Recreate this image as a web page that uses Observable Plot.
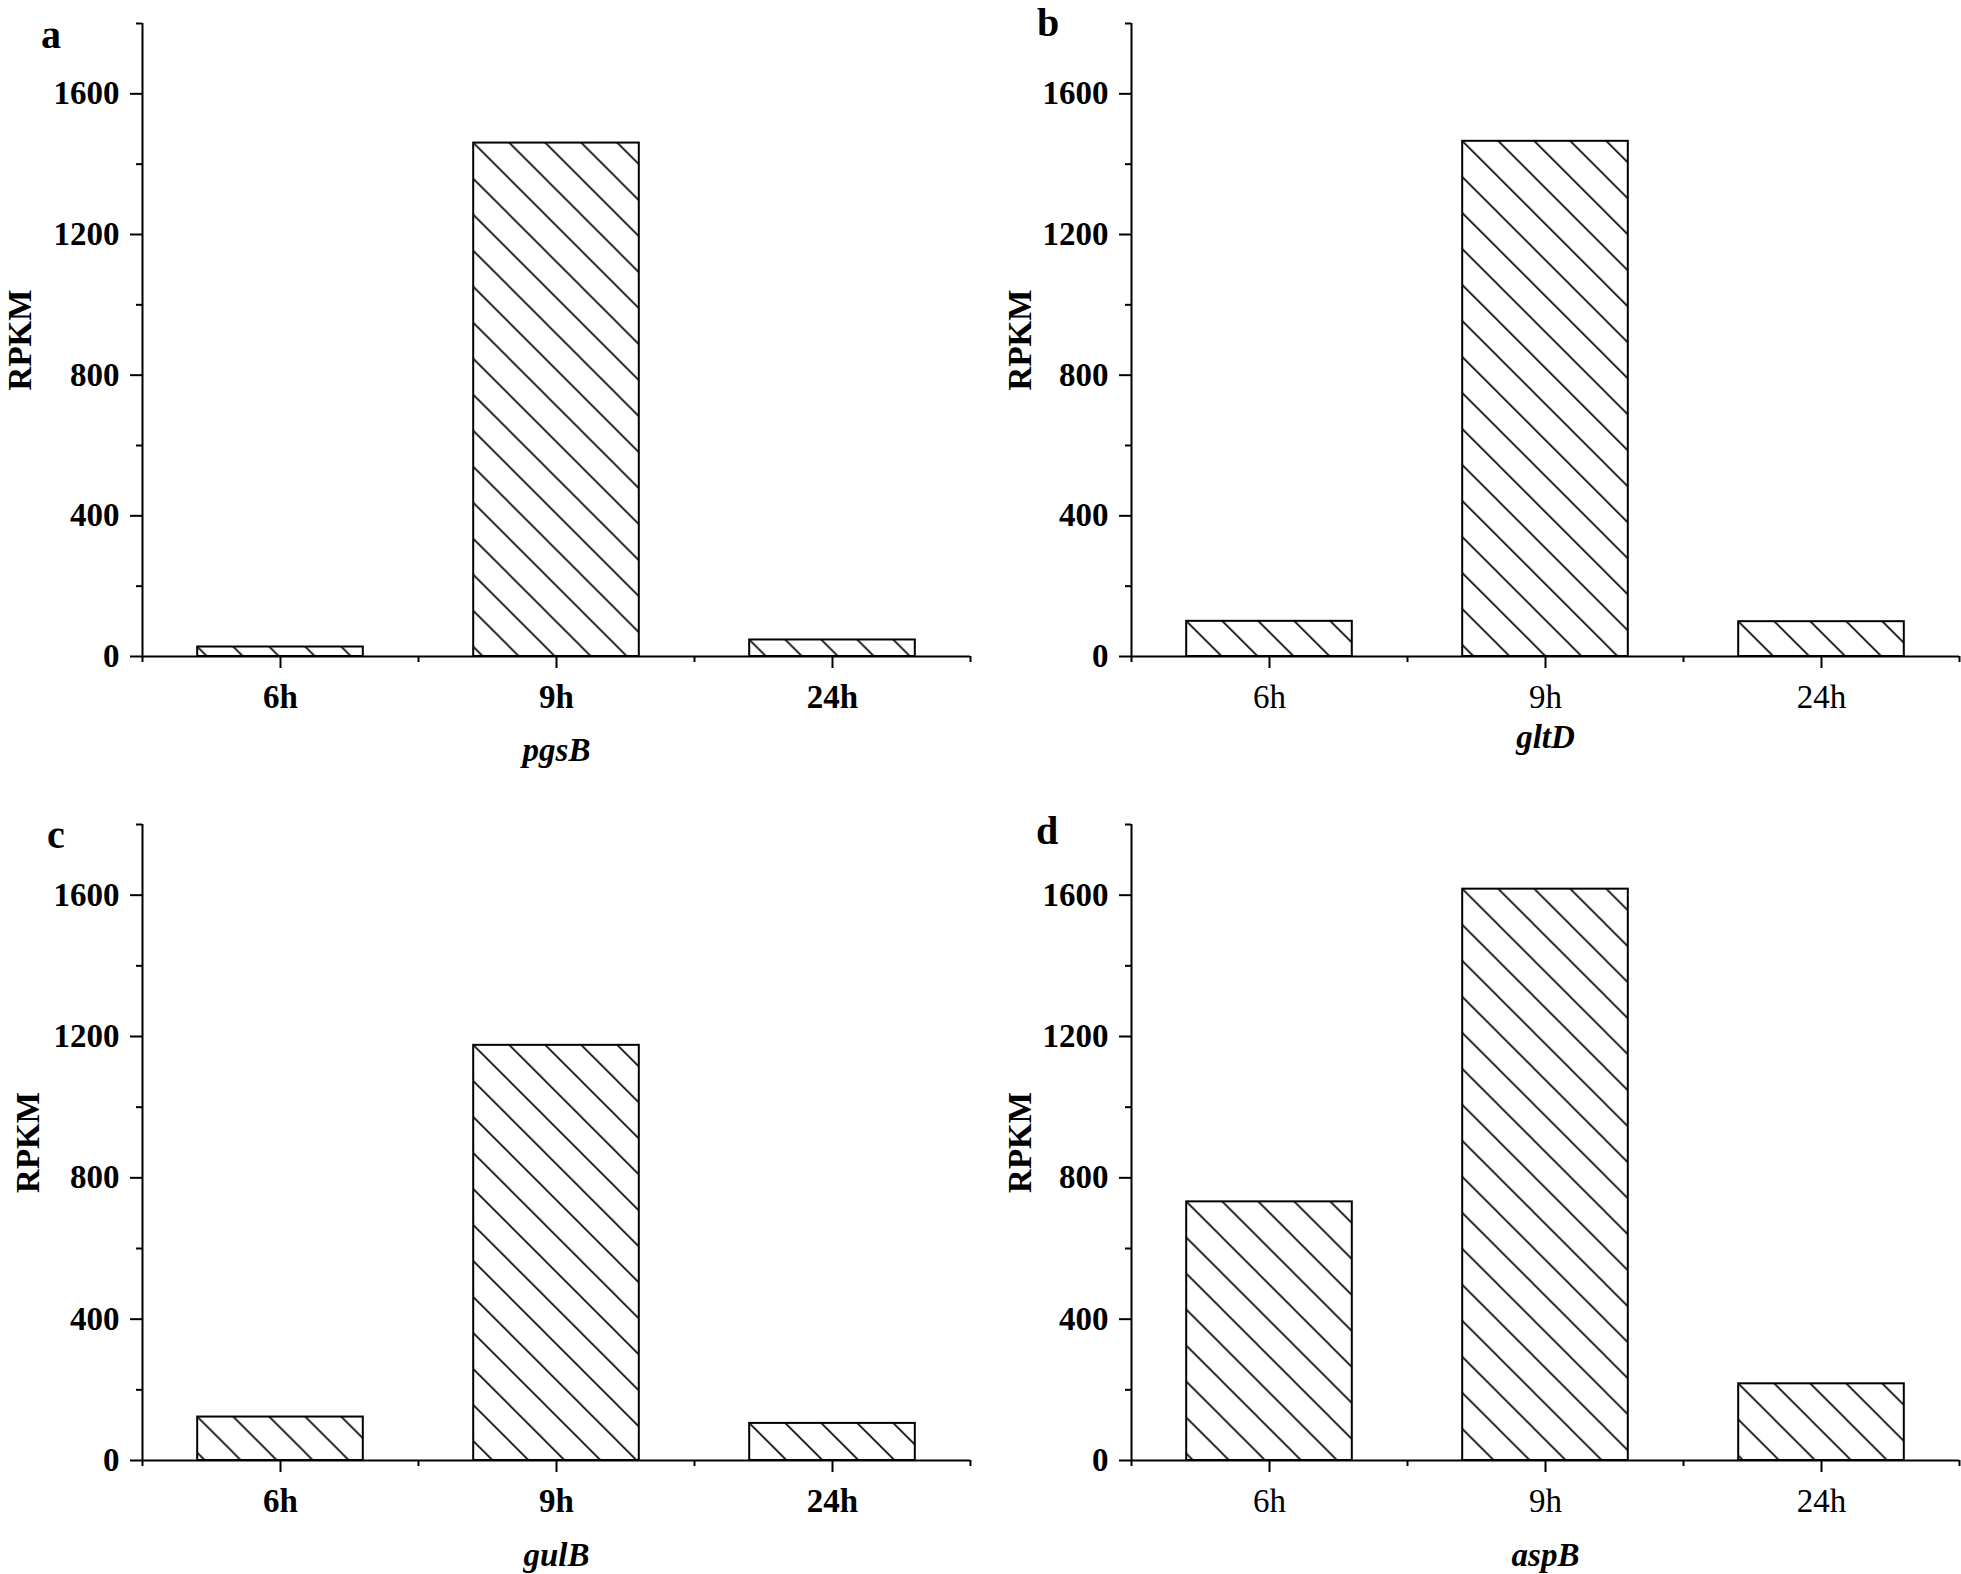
<!DOCTYPE html>
<html>
<head>
<meta charset="utf-8">
<script src="https://cdn.jsdelivr.net/npm/d3@7"></script>
<script src="https://cdn.jsdelivr.net/npm/@observablehq/plot@0.6"></script>
<style>
html, body { margin: 0; padding: 0; background: #fff; }
#root { position: relative; width: 1961px; height: 1574px; background: #fff; overflow: hidden;
  font-family: 'Liberation Serif', 'Times New Roman', serif; }
.panel { position: absolute; }
.letter { position: absolute; font-weight: bold; font-size: 40px; line-height: 1.2; color: #000;
  font-family: 'Liberation Serif', 'Times New Roman', serif; }
</style>
</head>
<body>
<div id="root"></div>
<script>
// ---- data ----
const times = ["6h", "9h", "24h"];
const pgsB = [27, 1460, 47];
const gltD = [100, 1465, 99];
const gulB = [123, 1175, 105];
const aspB = [732, 1617, 217];
const genes = ["pgsB", "gltD", "gulB", "aspB"];
const panelLetters = ["a", "b", "c", "d"];
const yMajorTicks = [0, 400, 800, 1200, 1600];
const yMinorTicks = [200, 600, 1000, 1400, 1800];
const yMax = 1800;

// ---- layout ----
const FONT = "'Liberation Serif', 'Times New Roman', serif";
const layouts = [
  {left: 0,   top: 0,   width: 980, height: 790, ml: 142, mr: 10, mt: 23, mb: 134, bold: true,  yOff: 135, xOff: 104, letter: {x: 41, y: 15}},
  {left: 980, top: 0,   width: 981, height: 790, ml: 151, mr: 2,  mt: 23, mb: 134, bold: false, yOff: 124, xOff: 91,  letter: {x: 1037, y: 3}},
  {left: 0,   top: 790, width: 980, height: 784, ml: 142, mr: 10, mt: 34, mb: 114, bold: true,  yOff: 127, xOff: 105, letter: {x: 47, y: 815}},
  {left: 980, top: 790, width: 981, height: 784, ml: 151, mr: 2,  mt: 34, mb: 114, bold: false, yOff: 124, xOff: 105, letter: {x: 1036, y: 811}}
];
const series = [pgsB, gltD, gulB, aspB];

const root = document.getElementById("root");
const pad = 0.2; // bar inset within each category slot

series.forEach((values, p) => {
  const L = layouts[p];
  const data = times.map((t, i) => ({t, i, v: values[i]}));
  const chart = Plot.plot({
    width: L.width, height: L.height,
    marginLeft: L.ml, marginRight: L.mr, marginTop: L.mt, marginBottom: L.mb,
    x: {domain: [0, times.length]},
    y: {domain: [0, yMax]},
    style: {fontFamily: FONT, fontSize: "33px", color: "#000", background: "transparent", overflow: "visible"},
    marks: [
      Plot.rect(data, {x1: d => d.i + pad, x2: d => d.i + 1 - pad, y1: 0, y2: "v",
        fill: "white", stroke: "black", strokeWidth: 2}),
      Plot.ruleY([0], {stroke: "black", strokeWidth: 2}),
      Plot.ruleX([0], {stroke: "black", strokeWidth: 2}),
      Plot.axisY({ticks: yMajorTicks, tickSize: 12, tickPadding: 11, strokeWidth: 2,
        tickFormat: d3.format("d"), fontWeight: "bold", fontSize: 33,
        label: "RPKM", labelAnchor: "center", labelOffset: L.yOff, labelArrow: "none"}),
      Plot.axisY({ticks: yMinorTicks, tickSize: 6, strokeWidth: 2, tickFormat: () => "", label: null}),
      Plot.axisX({ticks: times.map((t, i) => i + 0.5), tickSize: 12, tickPadding: 16, strokeWidth: 2,
        tickFormat: d => times[Math.floor(d)], fontWeight: L.bold ? "bold" : "normal", fontSize: 33, label: null}),
      Plot.axisX({ticks: d3.range(times.length + 1), tickSize: 6, strokeWidth: 2, tickFormat: () => "",
        label: genes[p], labelAnchor: "center", labelOffset: L.xOff, labelArrow: "none",
        fontStyle: "italic", fontWeight: "bold", fontSize: 33})
    ]
  });
  chart.classList.add("panel");
  chart.style.left = L.left + "px";
  chart.style.top = L.top + "px";

  // hatch fill: one pattern per bar, anchored at the bar's top-left corner
  const ns = "http://www.w3.org/2000/svg";
  const defs = document.createElementNS(ns, "defs");
  chart.insertBefore(defs, chart.firstChild);
  const rects = chart.querySelectorAll('g[aria-label="rect"] rect');
  rects.forEach((r, k) => {
    const id = `hatch-${p}-${k}`;
    const pat = document.createElementNS(ns, "pattern");
    pat.setAttribute("id", id);
    pat.setAttribute("patternUnits", "userSpaceOnUse");
    pat.setAttribute("x", r.getAttribute("x"));
    pat.setAttribute("y", r.getAttribute("y"));
    pat.setAttribute("width", 36);
    pat.setAttribute("height", 36);
    const bg = document.createElementNS(ns, "rect");
    bg.setAttribute("width", 36); bg.setAttribute("height", 36); bg.setAttribute("fill", "white");
    pat.appendChild(bg);
    const path = document.createElementNS(ns, "path");
    path.setAttribute("d", "M-9,-9L45,45M-9,27L9,45M27,-9L45,9");
    path.setAttribute("stroke", "black");
    path.setAttribute("stroke-width", 1.6);
    pat.appendChild(path);
    defs.appendChild(pat);
    r.setAttribute("fill", `url(#${id})`);
  });
  root.appendChild(chart);

  const letter = document.createElement("div");
  letter.className = "letter";
  letter.textContent = panelLetters[p];
  letter.style.left = L.letter.x + "px";
  letter.style.top = (L.letter.y - 4) + "px";
  root.appendChild(letter);
});
</script>
</body>
</html>
